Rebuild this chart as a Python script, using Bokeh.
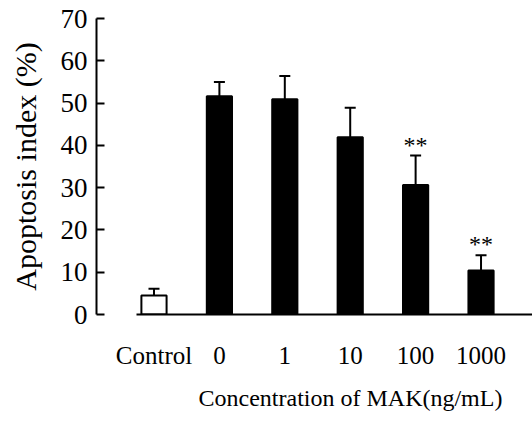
from bokeh.plotting import figure
from bokeh.models import Range1d, FixedTicker, Whisker, TeeHead, ColumnDataSource, Title
from bokeh.core.properties import value
from bokeh.embed import file_html
from bokeh.resources import INLINE

# ---- data ----
categories = ["Control", "0", "1", "10", "100", "1000"]
means = [4.5, 51.6, 50.9, 41.9, 30.6, 10.4]
sds = [1.6, 3.4, 5.5, 7.0, 7.0, 3.6]
significance = ["", "", "", "", "**", "**"]
y_ticks = [0, 10, 20, 30, 40, 50, 60, 70]
y_title = "Apoptosis index (%)"
x_title = "Concentration of MAK(ng/mL)"

FONT = "Liberation Serif"

xs = list(range(len(categories)))
src = ColumnDataSource(dict(
    x=xs,
    mean=means,
    upper=[m + s for m, s in zip(means, sds)],
    sig=significance,
    fill=["white"] + ["black"] * (len(categories) - 1),
))

p = figure(width=532, height=421, output_backend="svg", toolbar_location=None,
           x_range=Range1d(-0.879, 5.787), y_range=Range1d(0, 70),
           min_border_left=96, min_border_right=0, min_border_top=18,
           min_border_bottom=106)
p.outline_line_color = None
p.xgrid.visible = False
p.ygrid.visible = False
p.background_fill_color = "white"
p.border_fill_color = "white"

p.vbar(x="x", top="mean", bottom=0, width=0.385, fill_color="fill",
       line_color="black", line_width=2, source=src)

wh = Whisker(base="x", upper="upper", lower="mean", source=src,
             line_color="black", line_width=2,
             upper_head=TeeHead(size=11, line_color="black", line_width=2),
             lower_head=None)
p.add_layout(wh)

p.text(x="x", y="upper", text="sig", source=src, text_align="center",
       text_baseline="alphabetic", y_offset=-11, text_font=value(FONT),
       text_font_size="24px", text_color="black")

# y axis
ya = p.yaxis[0]
ya.ticker = FixedTicker(ticks=y_ticks)
ya.minor_tick_line_color = None
ya.major_tick_in = 8
ya.major_tick_out = 0
ya.major_tick_line_width = 2
ya.major_tick_line_color = "black"
ya.axis_line_width = 2
ya.axis_line_color = "black"
ya.major_label_text_font = FONT
ya.major_label_text_font_size = "27px"
ya.major_label_text_color = "black"
ya.major_label_standoff = 9
ya.axis_label = y_title
ya.axis_label_text_font = FONT
ya.axis_label_text_font_size = "30px"
ya.axis_label_text_font_style = "normal"
ya.axis_label_text_color = "black"
ya.axis_label_standoff = 16

# x axis
xa = p.xaxis[0]
xa.ticker = FixedTicker(ticks=xs)
xa.major_label_overrides = {i: c for i, c in zip(xs, categories)}
xa.bounds = (-0.26, 5.787)
xa.minor_tick_line_color = None
xa.major_tick_in = 0
xa.major_tick_out = 0
xa.axis_line_width = 2
xa.axis_line_color = "black"
xa.major_label_text_font = FONT
xa.major_label_text_font_size = "25px"
xa.major_label_text_color = "black"
xa.major_label_standoff = 27

# x axis title, offset to the right as in the reference
xt = Title(text=x_title, align="left", offset=102, standoff=22,
           text_font=FONT, text_font_size="24px", text_font_style="normal",
           text_color="black")
p.add_layout(xt, "below")

open("out.html", "w").write(file_html(p, INLINE))
